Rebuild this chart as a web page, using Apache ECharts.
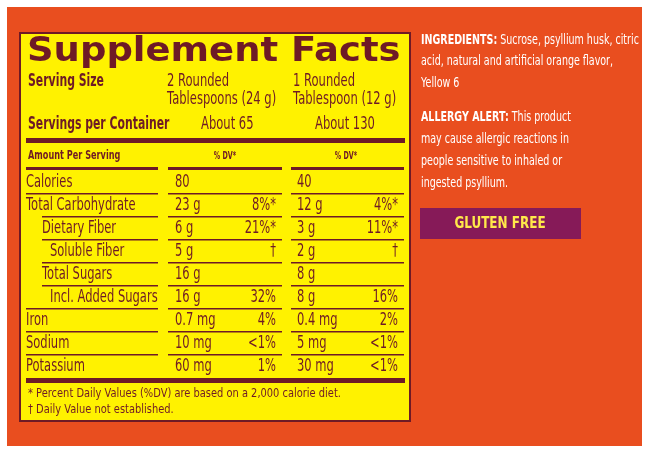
<!DOCTYPE html>
<html>
<head>
<meta charset="utf-8">
<script src="https://cdn.jsdelivr.net/npm/echarts@6/dist/echarts.min.js"></script>
<style>
  html, body { margin: 0; padding: 0; background: #fff; }
  #main { width: 646px; height: 451px; }
</style>
</head>
<body>
<div id="main"></div>
<script>
var rowLabels = ['Calories', 'Total Carbohydrate', 'Dietary Fiber', 'Soluble Fiber', 'Total Sugars', 'Incl. Added Sugars', 'Iron', 'Sodium', 'Potassium'];
var rowIndent = [0, 0, 1, 2, 1, 2, 0, 0, 0];
var amount1 = ['80', '23 g', '6 g', '5 g', '16 g', '16 g', '0.7 mg', '10 mg', '60 mg'];
var dv1 = ['', '8%*', '21%*', '†', '', '32%', '4%', '<1%', '1%'];
var amount2 = ['40', '12 g', '3 g', '2 g', '8 g', '8 g', '0.4 mg', '5 mg', '30 mg'];
var dv2 = ['', '4%*', '11%*', '†', '', '16%', '2%', '<1%', '<1%'];
var ingredientLines = ['{b|INGREDIENTS:} Sucrose, psyllium husk, citric', 'acid, natural and artificial orange flavor,', 'Yellow 6'];
var allergyLines = ['{b|ALLERGY ALERT:} This product', 'may cause allergic reactions in', 'people sensitive to inhaled or', 'ingested psyllium.'];

var MAROON = '#6e1a26';
var ORANGE = '#e94e1f';
var YELLOW = '#fff200';
var FONT = "'DejaVu Sans', sans-serif";

function txt(x, y, s, size, opt) {
    opt = opt || {};
    var st = {
        text: s, fill: opt.fill || MAROON,
        font: (opt.weight || 'normal') + ' ' + size + 'px ' + FONT,
        textAlign: opt.align || 'left', textVerticalAlign: 'middle'
    };
    if (opt.rich) st.rich = opt.rich;
    return { type: 'text', x: x, y: y, scaleX: opt.sx || 0.64, style: st };
}
function bar(x, y, w, h, fill) {
    return { type: 'rect', shape: { x: x, y: y, width: w, height: h }, style: { fill: fill || MAROON } };
}

var g = [];
g.push(bar(7, 7, 635, 439, ORANGE));
g.push({ type: 'rect', shape: { x: 20, y: 33, width: 390, height: 388 }, style: { fill: YELLOW, stroke: MAROON, lineWidth: 2 } });
g.push(txt(27, 52, 'Supplement Facts', 33, { weight: 'bold', sx: 1.12 }));
g.push(txt(28, 82, 'Serving Size', 17, { weight: 'bold', sx: 0.64 }));
g.push(txt(167, 82, '2 Rounded', 17, { sx: 0.68 }));
g.push(txt(167, 100, 'Tablespoons (24 g)', 17, { sx: 0.68 }));
g.push(txt(293, 82, '1 Rounded', 17, { sx: 0.68 }));
g.push(txt(293, 100, 'Tablespoon (12 g)', 17, { sx: 0.68 }));
g.push(txt(28, 125, 'Servings per Container', 17, { weight: 'bold', sx: 0.64 }));
g.push(txt(201, 125, 'About 65', 17, { sx: 0.68 }));
g.push(txt(315, 125, 'About 130', 17, { sx: 0.68 }));
g.push(bar(26, 138, 379, 5));
g.push(txt(28, 156, 'Amount Per Serving', 12, { weight: 'bold', sx: 0.68 }));
g.push(txt(225, 156, '% DV*', 10, { weight: 'bold', align: 'center' }));
g.push(txt(346, 156, '% DV*', 10, { weight: 'bold', align: 'center' }));
g.push(bar(26, 167, 132, 3));
g.push(bar(168, 167, 114, 3));
g.push(bar(291, 167, 113, 3));

var rowH = 23, top0 = 182;
var indentX = [26, 42, 50];
for (var i = 0; i < rowLabels.length; i++) {
    var y = top0 + i * rowH;
    g.push(txt(indentX[rowIndent[i]], y, rowLabels[i], 18));
    g.push(txt(175, y, amount1[i], 18));
    g.push(txt(276, y, dv1[i], 18, { align: 'right' }));
    g.push(txt(297, y, amount2[i], 18));
    g.push(txt(398, y, dv2[i], 18, { align: 'right' }));
    if (i < rowLabels.length - 1) {
        var ly = y + 11;
        var ind = rowIndent[i + 1] > 0 ? 42 : 26;
        g.push(bar(ind, ly, 158 - ind, 1.5));
        g.push(bar(168, ly, 114, 1.5));
        g.push(bar(291, ly, 113, 1.5));
    }
}
g.push(bar(26, 378, 379, 5));
g.push(txt(28, 394, '* Percent Daily Values (%DV) are based on a 2,000 calorie diet.', 13, { sx: 0.76 }));
g.push(txt(28, 410, '† Daily Value not established.', 13, { sx: 0.76 }));

var richW = { b: { font: 'bold 14px ' + FONT, fill: '#fff' } };
ingredientLines.forEach(function (s, k) {
    g.push(txt(421, 40 + k * 21.5, s, 14, { fill: '#fff', rich: richW, sx: 0.68 }));
});
allergyLines.forEach(function (s, k) {
    g.push(txt(421, 117 + k * 22, s, 14, { fill: '#fff', rich: richW, sx: 0.68 }));
});
g.push(bar(420, 208, 161, 31, '#861a58'));
g.push(txt(500, 224, 'GLUTEN FREE', 16, { weight: 'bold', fill: '#ffe94a', align: 'center', sx: 0.75 }));

var chart = echarts.init(document.getElementById('main'));
chart.setOption({ animation: false, graphic: { elements: g } });
</script>
</body>
</html>
